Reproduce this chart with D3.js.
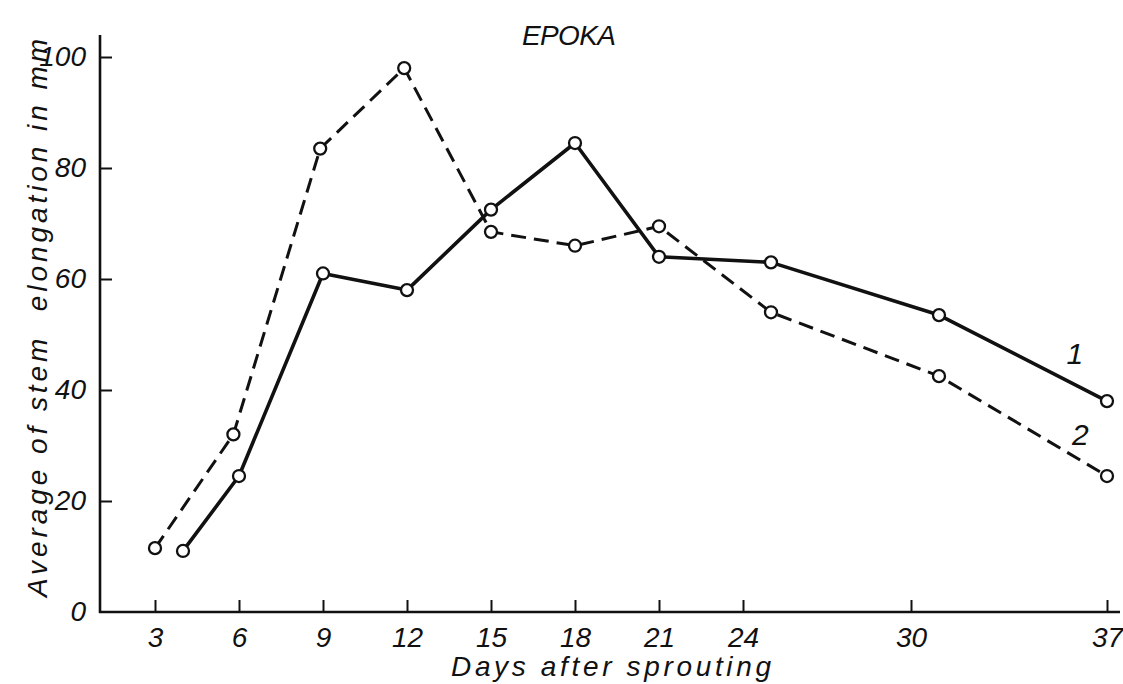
<!DOCTYPE html>
<html>
<head>
<meta charset="utf-8">
<script src="https://cdn.jsdelivr.net/npm/d3@7"></script>
<style>
	html, body { margin: 0; padding: 0; background: #fff; }
	svg text { font-family: "Liberation Sans Narrow", "Liberation Sans", "DejaVu Sans", sans-serif; font-style: italic; fill: #111; }
</style>
</head>
<body>
<div id="svg-container"></div>
<script>

// DATA
const TITLE = 'EPOKA';
const X_LABEL = 'Days after sprouting';
const Y_LABEL = 'Average of stem  elongation in mm';
const X_TICKS = [3, 6, 9, 12, 15, 18, 21, 24, 30, 37];
const Y_TICKS = [0, 20, 40, 60, 80, 100];

// series 1 (solid)
const DAYS_1 = [4, 6, 9, 12, 15, 18, 21, 25, 31, 37];
const VALUES_1 = [11, 24.5, 61, 58, 72.5, 84.5, 64, 63, 53.5, 38];
// series 2 (dashed)
const DAYS_2 = [3, 5.8, 8.9, 11.9, 15, 18, 21, 25, 31, 37];
const VALUES_2 = [11.5, 32, 83.5, 98, 68.5, 66, 69.5, 54, 42.5, 24.5];

// series labels, placed in data space
const SERIES_NAMES = ['1', '2'];
const NAME_DAYS = [35.85, 36.05];
const NAME_VALUES = [46.5, 32];


// LINE CHART
function graphData() {
	// graph dimension
	const w = 1123;
	const h = 684;

	// scales
	const xScale = d3.scaleLinear().domain([3, 37]).range([155, 1107]);
	const yScale = d3.scaleLinear().domain([0, 100]).range([612, 57]);

	const svg = d3.select('#svg-container')
		.append('svg')
		.attr('width', w)
		.attr('height', h);

	// axis lines (longer than the scale range)
	svg.append('line')
		.attr('x1', 100).attr('x2', 100)
		.attr('y1', 35).attr('y2', yScale(0) + 1)
		.attr('stroke', '#111').attr('stroke-width', 2.6);
	svg.append('line')
		.attr('x1', 99).attr('x2', 1120)
		.attr('y1', yScale(0)).attr('y2', yScale(0))
		.attr('stroke', '#111').attr('stroke-width', 2.6);

	// x-axis
	const xAxis = d3.axisBottom(xScale)
		.tickValues(X_TICKS)
		.tickSizeInner(-12)
		.tickSizeOuter(0)
		.tickPadding(15);
	const gx = svg.append('g')
		.attr('transform', `translate(0,${yScale(0)})`)
		.call(xAxis);
	gx.select('.domain').remove();
	gx.attr('font-family', null).attr('font-size', null);
	gx.selectAll('line').attr('stroke', '#111').attr('stroke-width', 2);
	gx.selectAll('text')
		.attr('font-size', 28)
		.attr('fill', '#111');

	// y-axis
	const yAxis = d3.axisLeft(yScale)
		.tickValues(Y_TICKS)
		.tickSizeInner(-12)
		.tickSizeOuter(0)
		.tickPadding(14);
	const gy = svg.append('g')
		.attr('transform', `translate(100,0)`)
		.call(yAxis);
	gy.select('.domain').remove();
	gy.attr('font-family', null).attr('font-size', null);
	gy.selectAll('line').attr('stroke', '#111').attr('stroke-width', 2);
	gy.selectAll('.tick').filter(d => d === 0).select('line').remove();
	gy.selectAll('text')
		.attr('font-size', 28)
		.attr('fill', '#111');

	// titles
	svg.append('text')
		.attr('x', 569).attr('y', 45)
		.attr('text-anchor', 'middle')
		.attr('font-size', 28)
		.attr('textLength', 94)
		.attr('lengthAdjust', 'spacing')
		.text(TITLE);

	svg.append('text')
		.attr('x', 611).attr('y', 676)
		.attr('text-anchor', 'middle')
		.attr('font-size', 28)
		.attr('textLength', 320)
		.attr('lengthAdjust', 'spacing')
		.text(X_LABEL);

	svg.append('text')
		.attr('transform', 'translate(47,318) rotate(-90)')
		.attr('text-anchor', 'middle')
		.attr('font-size', 28)
		.attr('textLength', 558)
		.attr('lengthAdjust', 'spacing')
		.attr('xml:space', 'preserve')
		.style('white-space', 'pre')
		.text(Y_LABEL);

	// series
	const series = [
		{ days: DAYS_1, values: VALUES_1, dash: null, width: 3.6 },
		{ days: DAYS_2, values: VALUES_2, dash: '15,8', width: 3 }
	];

	const line = d3.line()
		.x(d => xScale(d[0]))
		.y(d => yScale(d[1]));

	series.forEach(s => {
		const pts = s.days.map((d, i) => [d, s.values[i]]);
		svg.append('path')
			.datum(pts)
			.attr('d', line)
			.attr('fill', 'none')
			.attr('stroke', '#111')
			.attr('stroke-width', s.width)
			.attr('stroke-linejoin', 'round')
			.attr('stroke-dasharray', s.dash);
	});

	series.forEach(s => {
		const pts = s.days.map((d, i) => [d, s.values[i]]);
		svg.append('g').selectAll('circle')
			.data(pts)
			.enter()
			.append('circle')
			.attr('cx', d => xScale(d[0]))
			.attr('cy', d => yScale(d[1]))
			.attr('r', 6)
			.attr('fill', '#fff')
			.attr('stroke', '#111')
			.attr('stroke-width', 2.3);
	});

	// series names
	svg.selectAll('text.name')
		.data(SERIES_NAMES)
		.enter()
		.append('text')
		.attr('class', 'name')
		.attr('x', (d, i) => xScale(NAME_DAYS[i]))
		.attr('y', (d, i) => yScale(NAME_VALUES[i]))
		.attr('text-anchor', 'middle')
		.attr('dominant-baseline', 'central')
		.attr('font-size', 30)
		.text(d => d);
}


document.addEventListener('DOMContentLoaded', () => {
	graphData();
});
</script>
</body>
</html>
